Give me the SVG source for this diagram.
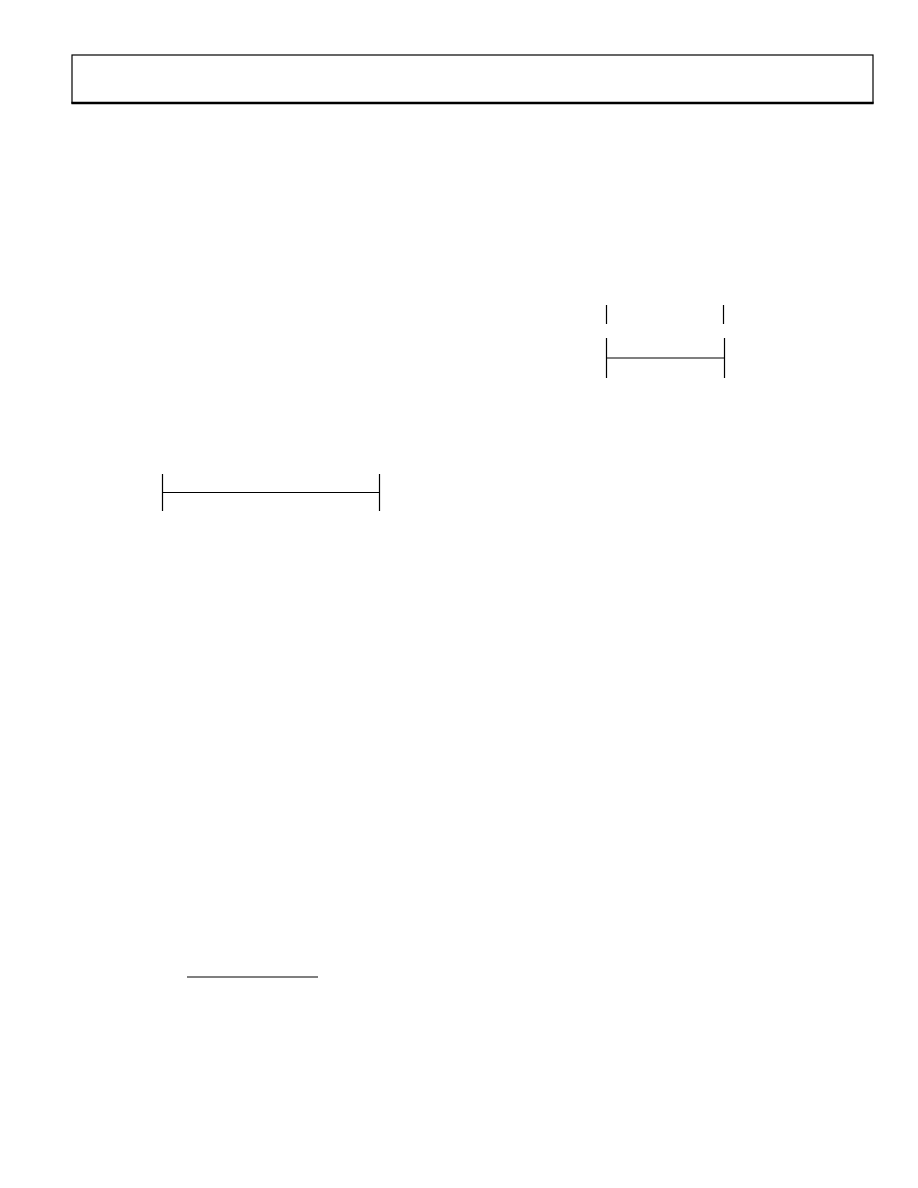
<svg xmlns="http://www.w3.org/2000/svg" width="918" height="1188" viewBox="0 0 918 1188">
<style>
.ln{stroke:#000;stroke-width:1.2;fill:none}
.thick{stroke:#000;stroke-width:2.4;fill:none}
</style>
<rect width="918" height="1188" fill="#fff"/>
<g id="header">
<rect class="ln" x="72" y="55" width="801" height="48"/>
<line class="thick" x1="71.4" y1="103" x2="873.6" y2="103"/>
</g>
<g id="connectors">
<line class="ln" x1="606.5" y1="305" x2="606.5" y2="324"/>
<line class="ln" x1="723.5" y1="305" x2="723.5" y2="324"/>
<line class="ln" x1="606.5" y1="338" x2="606.5" y2="378"/>
<line class="ln" x1="724.5" y1="338" x2="724.5" y2="378"/>
<line class="ln" x1="607" y1="358" x2="724" y2="358"/>
<line class="ln" x1="162.5" y1="474" x2="162.5" y2="511"/>
<line class="ln" x1="379.5" y1="474" x2="379.5" y2="511"/>
<line class="ln" x1="162.5" y1="492.5" x2="379.5" y2="492.5"/>
<line class="ln" x1="187" y1="977" x2="318" y2="977"/>
</g>
</svg>
